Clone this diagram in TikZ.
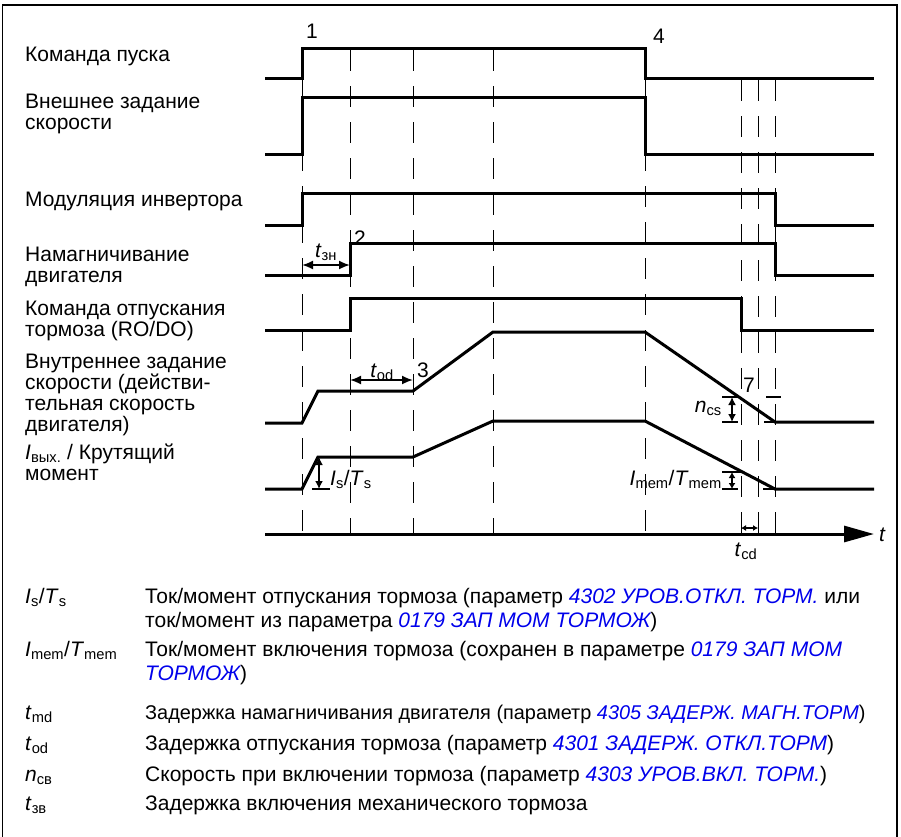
\documentclass[tikz,border=0pt]{standalone}
\usepackage{fontspec}
\setmainfont{Liberation Sans}
\usetikzlibrary{arrows.meta}
\definecolor{parblue}{RGB}{0,0,235}
\newcommand{\prm}[1]{\textcolor{parblue}{\itshape #1}}
\newcommand{\sym}[2]{\textit{#1}\textsubscript{#2}}

\begin{document}
\begin{tikzpicture}[x=1pt,y=-1pt,
    sig/.style={line width=3pt},
    guide/.style={line width=1pt,dash pattern=on 21pt off 15pt},
    tickline/.style={line width=1.8pt},
    dim/.style={line width=1.8pt,{Latex[length=11pt,width=9pt]}-{Latex[length=11pt,width=9pt]}},
    smalldim/.style={line width=1.8pt,{Latex[length=8pt,width=8pt]}-{Latex[length=8pt,width=8pt]}},
    lbl/.style={anchor=base west,align=left,inner sep=0pt,font=\fontsize{21}{21}\selectfont},
    lgd/.style={anchor=base west,align=left,inner sep=0pt,font=\fontsize{21}{24}\selectfont},
    num/.style={anchor=base west,inner sep=0pt,font=\fontsize{21}{21}\selectfont},
    dlbl/.style={anchor=base,inner sep=0pt,font=\fontsize{21}{21}\selectfont}]
  \useasboundingbox (0,0) rectangle (901,836);
  \draw[line width=1.2pt] (2.5,850) -- (2.5,5) -- (897,5) -- (897,850);

  % guide lines
  \foreach \x/\y in {302/78,350/50,413/50,493/50,645/78,741/80,758/80,775/80}
    \draw[guide] (\x,\y) -- (\x,534);

  % signals
  \draw[sig] (265,78) -- (302,78) -- (302,48) -- (645,48) -- (645,78) -- (874,78);
  \draw[sig] (265,154) -- (302,154) -- (302,97) -- (645,97) -- (645,154) -- (874,154);
  \draw[sig] (265,225) -- (302,225) -- (302,193) -- (775,193) -- (775,225) -- (874,225);
  \draw[sig] (265,275) -- (350,275) -- (350,243) -- (775,243) -- (775,275) -- (874,275);
  \draw[sig] (265,330) -- (350,330) -- (350,298) -- (741,298) -- (741,330) -- (874,330);
  \draw[sig] (265,423) -- (302,423) -- (318,391) -- (413,391) -- (493,332) -- (645,332) -- (775,422) -- (874,422);
  \draw[sig] (265,489) -- (302,489) -- (318,457) -- (413,457) -- (493,421) -- (645,421) -- (775,489) -- (874,489);

  % time axis
  \draw[line width=3pt,-{Triangle[length=30pt,width=16pt]}] (265,534) -- (874,534);
  \node[num] (tax) at (879,541) {\textit{t}};

  % left labels (base = last line)
  \node[lbl] (start) at (25,61) {Команда пуска};
  \node[lbl] (extref) at (25,129) {Внешнее задание\\скорости};
  \node[lbl] (modul) at (25,206) {Модуляция инвертора};
  \node[lbl] (magn) at (25,282) {Намагничивание\\двигателя};
  \node[lbl] (brake) at (25,336) {Команда отпускания\\тормоза (RO/DO)};
  \node[lbl] (intref) at (25,431) {Внутреннее задание\\скорости (действи-\\тельная скорость\\двигателя)};
  \node[lbl] (torque) at (25,480) {\sym{I}{вых.} / Крутящий\\момент};

  % event numbers
  \node[num] (n1) at (306,38) {1};
  \node[num] (n2) at (354,245) {2};
  \node[num] (n3) at (417,377) {3};
  \node[num] (n4) at (653,43) {4};
  \node[num] (n7) at (743,392) {7};

  % delays and levels
  \draw[dim] (302,265) -- (350,265);
  \node[dlbl] (tzn) at (326,257) {\sym{t}{зн}};
  \draw[dim] (350,380) -- (413,380);
  \node[dlbl] (tod) at (382,377) {\sym{t}{od}};
  \draw[tickline] (312,489) -- (330,489);
  \draw[smalldim] (319,457) -- (319,489);
  \node[num] (ists) at (330,485) {\sym{I}{s}/\sym{T}{s}};
  \draw[tickline] (722,397) -- (740,397);
  \draw[tickline] (722,422) -- (738,422);
  \draw[tickline] (766,397) -- (781,397);
  \draw[tickline] (764,422) -- (775,422);
  \draw[smalldim] (732,397) -- (732,422);
  \node[num,anchor=base east] (ncs) at (722,412) {\sym{n}{cs}};
  \draw[tickline] (722,472) -- (742,472);
  \draw[tickline] (722,489) -- (738,489);
  \draw[tickline] (763,489) -- (775,489);
  \draw[line width=1.8pt,{Latex[length=6pt,width=7pt]}-{Latex[length=6pt,width=7pt]}] (732,472) -- (732,489);
  \node[num,anchor=base east] (imem) at (722,485) {\sym{I}{mem}/\sym{T}{mem}};
  \draw[line width=1.5pt,{Latex[length=5pt,width=6pt]}-{Latex[length=5pt,width=6pt]}] (741,528) -- (758,528);
  \node[dlbl] (tcd) at (746,556) {\sym{t}{cd}};

  % legend (base = last line)
  \node[lgd] (kis) at (25,603) {\sym{I}{s}/\sym{T}{s}};
  \node[lgd] (dis) at (145,627) {Ток/момент отпускания тормоза (параметр \prm{4302 УРОВ.ОТКЛ. ТОРМ.} или\\ток/момент из параметра \prm{0179 ЗАП МОМ ТОРМОЖ})};
  \node[lgd] (kim) at (25,656) {\sym{I}{mem}/\sym{T}{mem}};
  \node[lgd] (dim) at (145,680) {Ток/момент включения тормоза (сохранен в параметре \prm{0179 ЗАП МОМ}\\\prm{ТОРМОЖ})};
  \node[lgd] (ktmd) at (25,719) {\sym{t}{md}};
  \node[lgd,font=\fontsize{19.9}{24}\selectfont] (dtmd) at (145,719) {Задержка намагничивания двигателя (параметр \prm{4305 ЗАДЕРЖ. МАГН.ТОРМ})};
  \node[lgd] (ktod) at (25,750) {\sym{t}{od}};
  \node[lgd] (dtod) at (145,750) {Задержка отпускания тормоза (параметр \prm{4301 ЗАДЕРЖ. ОТКЛ.ТОРМ})};
  \node[lgd] (kncb) at (25,781) {\sym{n}{св}};
  \node[lgd] (dncb) at (145,781) {Скорость при включении тормоза (параметр \prm{4303 УРОВ.ВКЛ. ТОРМ.})};
  \node[lgd] (ktzv) at (25,810) {\sym{t}{зв}};
  \node[lgd] (dtzv) at (145,810) {Задержка включения механического тормоза};
\end{tikzpicture}
\end{document}
